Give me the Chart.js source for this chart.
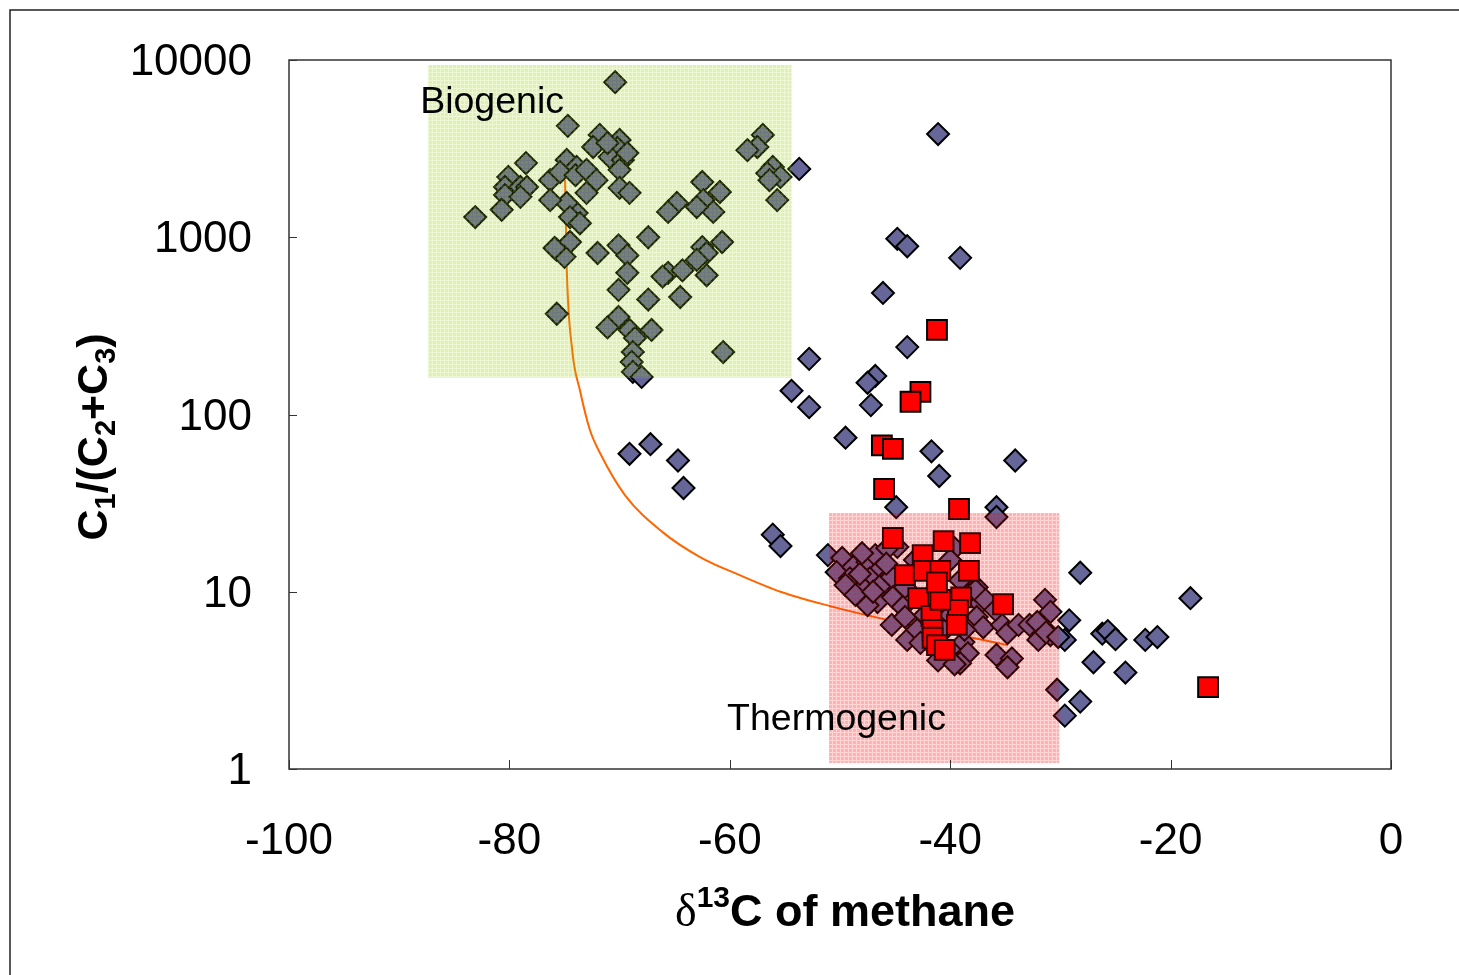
<!DOCTYPE html>
<html>
<head>
<meta charset="utf-8">
<title>C1/(C2+C3) vs δ13C of methane</title>
<script src="https://cdn.jsdelivr.net/npm/chart.js@4.4.0/dist/chart.umd.min.js"></script>
<style>
  html, body { margin: 0; padding: 0; background: #fff; }
  #wrap { width: 1459px; height: 975px; position: relative; }
</style>
</head>
<body>
<div id="wrap"><canvas id="gas" width="1459" height="975"></canvas></div>
<script>
// gas samples, plotted as diamonds: [δ13C, C1/(C2+C3)]
const diamondSamples = [
  // biogenic group
  [-70.4, 7500], [-74.7, 4250], [-71.8, 3780], [-70.0, 3540], [-70.2, 3190], [-70.9, 2840],
  [-72.4, 3230], [-71.1, 3400], [-69.7, 2730], [-70.0, 2400], [-69.3, 2990], [-57.0, 3780],
  [-57.5, 3230], [-58.4, 3100], [-56.1, 2490], [-56.6, 2300], [-55.4, 2190], [-55.7, 1620],
  [-56.4, 2100], [-78.5, 2620], [-80.1, 2190], [-80.4, 1920], [-79.0, 1920], [-78.4, 1920],
  [-80.4, 1730], [-80.7, 1430], [-79.0, 1690], [-83.1, 1300], [-76.3, 2100], [-74.8, 2730],
  [-73.9, 2490], [-75.4, 2330], [-74.0, 2240], [-73.0, 2400], [-72.1, 2100], [-73.0, 1780],
  [-73.9, 1370], [-74.8, 1560], [-76.3, 1620], [-74.5, 1300], [-73.6, 1200], [-70.0, 1900],
  [-69.1, 1780], [-62.5, 2050], [-60.9, 1800], [-64.8, 1560], [-65.6, 1390], [-62.4, 1620],
  [-61.5, 1390], [-63.0, 1480], [-67.4, 1000], [-70.1, 900], [-69.3, 790], [-72.0, 815],
  [-75.7, 850], [-74.5, 940], [-75.0, 775], [-75.9, 870], [-69.3, 630], [-70.1, 505],
  [-65.6, 630], [-64.3, 650], [-66.1, 600], [-67.4, 445], [-64.5, 460], [-62.5, 880],
  [-62.1, 815], [-60.7, 940], [-63.0, 745], [-62.1, 610], [-75.7, 370], [-70.1, 355],
  [-71.1, 310], [-69.1, 300], [-68.6, 270], [-67.1, 300], [-68.8, 225], [-68.9, 198],
  [-68.8, 174], [-60.6, 225], [-68.0, 163],
  // scattered samples
  [-41.1, 3820], [-53.7, 2430], [-44.8, 980], [-43.9, 890], [-39.1, 765], [-46.1, 485],
  [-43.9, 240], [-52.8, 206], [-46.8, 165], [-47.5, 151], [-54.4, 136], [-52.8, 110],
  [-47.2, 113], [-49.5, 74], [-41.7, 62], [-34.1, 55], [-41.0, 45], [-44.9, 30],
  [-35.8, 30], [-35.8, 26.4], [-69.1, 60], [-67.2, 68], [-64.7, 55], [-64.2, 38.5],
  [-56.1, 21], [-55.4, 18.1], [-28.2, 12.8], [-18.2, 9.2], [-29.2, 6.9], [-29.6, 5.35],
  [-26.2, 5.8], [-25.7, 6.0], [-25.0, 5.4], [-22.3, 5.35], [-21.2, 5.55], [-27.0, 4.0],
  [-24.1, 3.5], [-30.3, 2.8], [-28.2, 2.4], [-29.6, 2.0], [-51.1, 16.1],
  // thermogenic group
  [-49.8, 15.5], [-50.3, 12.9], [-48.8, 13.8], [-49.1, 11.9], [-49.5, 10.9], [-47.5, 14.7],
  [-46.8, 16.1], [-46.4, 13.3], [-47.3, 11.9], [-47.9, 10.5], [-48.6, 9.6], [-46.1, 11.2],
  [-45.3, 12.1], [-46.6, 8.75], [-47.5, 8.4], [-45.2, 9.3], [-44.1, 10.6], [-44.3, 8.2],
  [-45.3, 6.5], [-44.1, 7.2], [-43.9, 5.35], [-43.0, 6.1], [-42.7, 5.15], [-41.2, 4.7],
  [-44.8, 17.9], [-45.7, 17.6], [-39.6, 17.6], [-37.6, 10.6], [-37.3, 8.6], [-37.6, 7.2],
  [-37.0, 6.3], [-35.3, 6.5], [-34.8, 5.85], [-33.8, 6.5], [-32.8, 6.5], [-32.1, 6.75],
  [-31.4, 9.0], [-30.9, 7.7], [-32.0, 5.35], [-30.9, 5.7], [-35.8, 4.4], [-34.4, 4.2],
  [-34.8, 3.75], [-38.8, 5.2], [-39.7, 4.5], [-38.4, 4.5], [-39.1, 3.95], [-37.7, 10.2],
  [-40.0, 15.1], [-36.8, 9.0], [-35.9, 7.9], [-39.1, 11.6], [-31.3, 5.9], [-30.2, 5.55],
  [-43.2, 15.1], [-41.8, 9.6], [-40.5, 6.1], [-42.3, 7.4], [-40.0, 7.4], [-38.7, 6.1],
  [-41.1, 4.1], [-39.6, 3.9], [-48.2, 12.6], [-47.0, 10.0], [-45.8, 14.4], [-48.0, 16.5]
];

// second sample set, plotted as red squares
const squareSamples = [
  [-41.2, 300], [-42.7, 134], [-43.6, 118], [-46.2, 67], [-45.2, 64], [-46.0, 38],
  [-39.2, 29.3], [-16.6, 2.9], [-45.2, 20.1], [-40.6, 19.3], [-38.2, 18.8], [-42.5, 16.1],
  [-44.1, 12.4], [-42.4, 13.1], [-40.9, 13.1], [-38.3, 13.1], [-42.9, 9.2], [-39.0, 9.3],
  [-35.2, 8.5], [-41.7, 7.3], [-39.3, 7.9], [-39.4, 6.5], [-40.9, 9.0], [-41.6, 6.1],
  [-41.6, 5.5], [-41.2, 5.0], [-41.2, 11.3], [-40.5, 4.7]
];

// mixing curve between the two end members
const mixD13C  = [-74.95, -74.8, -74.3, -73.6, -72.7, -71.8, -69.5, -66.1, -62.7, -59.1, -55.4, -50.9, -46.4, -34.8];
const mixRatio = [2100, 680, 231, 137, 82, 61, 35, 21.7, 15.7, 12.4, 10.0, 8.3, 7.1, 5.0];

// shaded fields: [xMin, xMax, yMin, yMax]
const biogenicField    = [-87.4, -54.4, 161, 9370];
const thermogenicField = [-51.0, -30.1, 1.08, 27.8];

const xTicks = [-100, -80, -60, -40, -20, 0];
const yTicks = [1, 10, 100, 1000, 10000];

const FONT = '"Liberation Sans", Arial, sans-serif';

const ctx = document.getElementById('gas').getContext('2d');

function dotted(r, g, b, a) {
  const tile = document.createElement('canvas');
  tile.width = tile.height = 4;
  const t = tile.getContext('2d');
  t.fillStyle = `rgba(${r},${g},${b},${a})`;
  t.fillRect(0, 0, 4, 4);
  t.clearRect(0, 0, 4, 1);
  t.clearRect(0, 1, 1, 3);
  t.fillStyle = `rgba(${r},${g},${b},${a * 0.55})`;
  t.fillRect(0, 0, 4, 1);
  t.fillRect(0, 1, 1, 3);
  return ctx.createPattern(tile, 'repeat');
}

// draws a run of text pieces (sub/superscripts) centred on 0
function richText(c, parts) {
  let total = 0;
  parts.forEach(p => { c.font = p.font; total += c.measureText(p.t).width; });
  let x = -total / 2;
  parts.forEach(p => {
    c.font = p.font;
    c.fillText(p.t, x, p.dy || 0);
    x += c.measureText(p.t).width;
  });
}

const decorations = {
  id: 'decorations',
  afterDatasetsDraw(chart) {
    const c = chart.ctx;
    const { x, y } = chart.scales;
    const a = chart.chartArea;

    // shaded fields on top of the samples
    [[biogenicField, dotted(150, 205, 0, 0.30)], [thermogenicField, dotted(255, 0, 0, 0.30)]].forEach(([f, fill]) => {
      const l = x.getPixelForValue(f[0]), r = x.getPixelForValue(f[1]);
      const t = y.getPixelForValue(f[3]), b = y.getPixelForValue(f[2]);
      c.save();
      c.fillStyle = fill;
      c.fillRect(l, t, r - l, b - t);
      c.restore();
    });

    c.save();
    c.fillStyle = '#000';
    c.font = '37.5px ' + FONT;
    c.textBaseline = 'middle';
    c.textAlign = 'left';
    c.fillText('Biogenic', x.getPixelForValue(-88.1), y.getPixelForValue(5720));
    c.fillText('Thermogenic', x.getPixelForValue(-60.25), y.getPixelForValue(1.89));
    c.restore();

    // plot frame with inward ticks
    c.save();
    c.strokeStyle = '#333';
    c.lineWidth = 1.5;
    c.strokeRect(a.left, a.top, a.right - a.left, a.bottom - a.top);
    c.lineWidth = 1;
    c.beginPath();
    xTicks.forEach(v => {
      const px = Math.round(x.getPixelForValue(v)) + 0.5;
      c.moveTo(px, a.bottom); c.lineTo(px, a.bottom - 9);
    });
    yTicks.forEach(v => {
      const py = Math.round(y.getPixelForValue(v)) + 0.5;
      c.moveTo(a.left, py); c.lineTo(a.left + 8, py);
    });
    c.stroke();
    c.restore();
  },
  afterDraw(chart) {
    const c = chart.ctx;
    c.save();
    // outer border
    c.strokeStyle = '#222';
    c.lineWidth = 1.5;
    c.strokeRect(10, 10, 1470, 990);

    c.fillStyle = '#000';
    c.textBaseline = 'alphabetic';
    c.textAlign = 'left';

    // x title
    c.save();
    c.translate(845, 926);
    richText(c, [
      { t: 'δ', font: '46px "Liberation Serif", "Times New Roman", serif' },
      { t: '13', font: 'bold 30px ' + FONT, dy: -19 },
      { t: 'C of methane', font: 'bold 45px ' + FONT }
    ]);
    c.restore();

    // y title
    c.save();
    c.translate(107, 437);
    c.rotate(-Math.PI / 2);
    const big = 'bold 43px ' + FONT, small = 'bold 29px ' + FONT;
    richText(c, [
      { t: 'C', font: big }, { t: '1', font: small, dy: 8 },
      { t: '/(C', font: big }, { t: '2', font: small, dy: 8 },
      { t: '+C', font: big }, { t: '3', font: small, dy: 8 },
      { t: ')', font: big }
    ]);
    c.restore();
    c.restore();
  }
};

new Chart(ctx, {
  type: 'scatter',
  data: {
    datasets: [
      {
        label: 'mixing',
        data: mixD13C.map((v, i) => ({ x: v, y: mixRatio[i] })),
        showLine: true,
        borderColor: '#ff6600',
        borderWidth: 2,
        pointRadius: 0,
        fill: false,
        cubicInterpolationMode: 'monotone',
        order: 3
      },
      {
        label: 'diamonds',
        data: diamondSamples.map(p => ({ x: p[0], y: p[1] })),
        pointStyle: 'rectRot',
        pointRadius: 11,
        backgroundColor: '#666699',
        borderColor: '#000',
        borderWidth: 2,
        order: 2
      },
      {
        label: 'squares',
        data: squareSamples.map(p => ({ x: p[0], y: p[1] })),
        pointStyle: 'rect',
        pointRadius: 14,
        backgroundColor: '#ff0000',
        borderColor: '#000',
        borderWidth: 2,
        order: 1
      }
    ]
  },
  options: {
    responsive: false,
    animation: false,
    layout: { padding: { left: 0, top: 60, right: 68, bottom: 0 } },
    plugins: { legend: { display: false }, tooltip: { enabled: false } },
    scales: {
      x: {
        type: 'linear',
        min: -100,
        max: 0,
        afterBuildTicks: s => { s.ticks = xTicks.map(v => ({ value: v })); },
        afterFit: s => { s.height = 206; s.paddingLeft = 0; s.paddingRight = 0; },
        grid: { display: false, drawTicks: false },
        border: { display: false },
        ticks: { color: '#000', font: { family: FONT, size: 44 }, padding: 46, maxRotation: 0 }
      },
      y: {
        type: 'logarithmic',
        min: 1,
        max: 10000,
        afterBuildTicks: s => { s.ticks = yTicks.map(v => ({ value: v })); },
        afterFit: s => { s.width = 289; s.paddingTop = 0; s.paddingBottom = 0; },
        grid: { display: false, drawTicks: false },
        border: { display: false },
        ticks: { color: '#000', font: { family: FONT, size: 44 }, padding: 37, labelOffset: 3, callback: v => String(v) }
      }
    }
  },
  plugins: [decorations]
});
</script>
</body>
</html>
